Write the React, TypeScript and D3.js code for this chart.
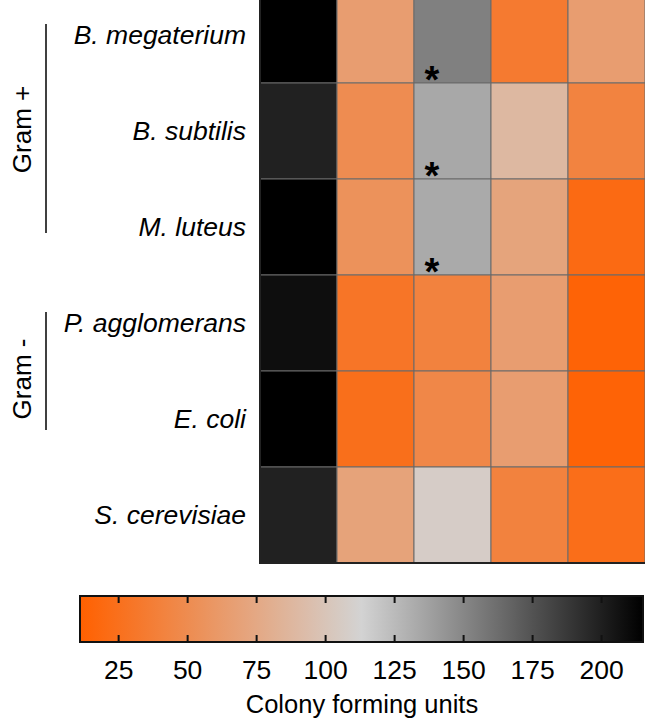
import React from "react";
import * as d3 from "d3";

const species = ["B. megaterium", "B. subtilis", "M. luteus", "P. agglomerans", "E. coli", "S. cerevisiae"];
const treatments = ["T1", "T2", "T3", "T4", "T5"];
const valuesMegaterium = [215, 65, 153, 34, 65];
const valuesSubtilis = [199, 50, 134, 89, 42];
const valuesLuteus = [215, 55, 133, 71, 20];
const valuesAgglomerans = [208, 30, 41, 65, 14];
const valuesColi = [215, 24, 46, 65, 14];
const valuesCerevisiae = [199, 70, 107, 41, 23];
const significant = [
  { species: "B. megaterium", treatment: "T3" },
  { species: "B. subtilis", treatment: "T3" },
  { species: "M. luteus", treatment: "T3" },
];
const groups = [
  { label: "Gram +", from: "B. megaterium", to: "M. luteus" },
  { label: "Gram -", from: "P. agglomerans", to: "E. coli" },
];
const colorTicks = [25, 50, 75, 100, 125, 150, 175, 200];
const colorDomain = [11, 113, 215];
const colorRange = ["#ff6000", "#d3d3d3", "#000000"];

const allValues = [valuesMegaterium, valuesSubtilis, valuesLuteus, valuesAgglomerans, valuesColi, valuesCerevisiae];

const FONT = "'Liberation Sans', Arial, sans-serif";

export default function App() {
  const W = 645, H = 728;
  const x = d3.scaleBand<string>().domain(treatments).range([260, 645]).padding(0);
  const y = d3.scaleBand<string>().domain(species).range([-13, 563]).padding(0);
  const color = d3.scaleLinear<string>().domain(colorDomain).range(colorRange).clamp(true);
  const cb = d3.scaleLinear().domain([colorDomain[0], colorDomain[2]]).range([80, 643]);

  const cells = species.flatMap((s, i) => treatments.map((t, j) => ({ s, t, v: allValues[i][j] })));
  const stops = d3.range(0, 1.0001, 0.05).map((f) => ({
    off: f,
    c: color(colorDomain[0] + f * (colorDomain[2] - colorDomain[0])),
  }));

  const cbTop = 596, cbBot = 642;

  return (
    <svg width={W} height={H} style={{ position: "absolute", left: 0, top: 0 }} fontFamily={FONT}>
      <defs>
        <linearGradient id="cbgrad" x1="0" x2="1" y1="0" y2="0">
          {stops.map((s, i) => (
            <stop key={i} offset={s.off} stopColor={s.c} />
          ))}
        </linearGradient>
      </defs>
      {cells.map((d, i) => (
        <rect
          key={i}
          x={x(d.t)}
          y={y(d.s)}
          width={x.bandwidth()}
          height={y.bandwidth()}
          fill={color(d.v)}
          stroke="#6a6a6a"
          strokeWidth={1}
        />
      ))}
      <line x1={260} x2={260} y1={-13} y2={563} stroke="#222" strokeWidth={2} />
      <line x1={259} x2={645} y1={563} y2={563} stroke="#222" strokeWidth={2} />
      {significant.map((d, i) => (
        <text
          key={i}
          x={(x(d.treatment) as number) + 18}
          y={(y(d.species) as number) + y.bandwidth() + 10}
          textAnchor="middle"
          fontSize={38}
          fontWeight="bold"
          fill="#000"
        >
          *
        </text>
      ))}
      {species.map((s) => (
        <text
          key={s}
          x={246}
          y={(y(s) as number) + y.bandwidth() / 2 + 9}
          textAnchor="end"
          fontSize={26.5}
          fontStyle="italic"
          fill="#000"
        >
          {s}
        </text>
      ))}
      {groups.map((g, i) => {
        const y1 = (y(g.from) as number) + 37;
        const y2 = (y(g.to) as number) + (i === 0 ? 54 : 59);
        const cy = i === 0 ? (y1 + y2) / 2 + 1 : (y1 + y2) / 2 + 8;
        return (
          <g key={g.label}>
            <line x1={46} x2={46} y1={y1} y2={y2} stroke="#000" strokeWidth={1.5} />
            <text
              transform={`translate(${31},${cy}) rotate(-90)`}
              textAnchor="middle"
              fontSize={26}
              fill="#000"
            >
              {g.label}
            </text>
          </g>
        );
      })}
      <rect x={80} y={cbTop} width={563} height={cbBot - cbTop} fill="url(#cbgrad)" stroke="#111" strokeWidth={2} />
      {colorTicks.map((t) => (
        <g key={t}>
          <line x1={cb(t)} x2={cb(t)} y1={cbTop} y2={cbTop + 7} stroke="#111" strokeWidth={2} />
          <line x1={cb(t)} x2={cb(t)} y1={cbBot - 7} y2={cbBot} stroke="#111" strokeWidth={2} />
          <text x={cb(t)} y={679} textAnchor="middle" fontSize={26.5} fill="#000">
            {t}
          </text>
        </g>
      ))}
      <text x={362} y={713} textAnchor="middle" fontSize={25.5} fill="#000">
        Colony forming units
      </text>
    </svg>
  );
}
